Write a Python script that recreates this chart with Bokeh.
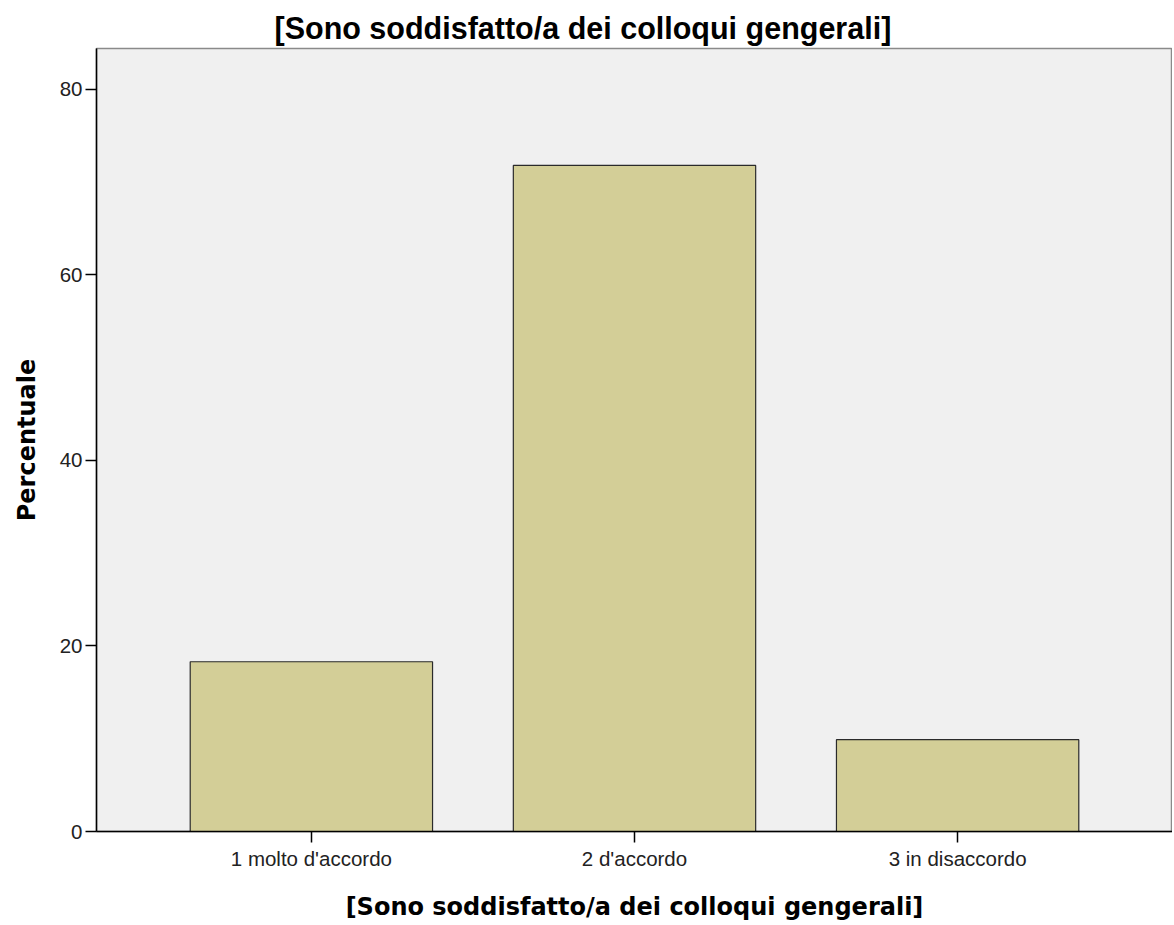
from bokeh.plotting import figure
from bokeh.models import FactorRange, Range1d, FixedTicker, ColumnDataSource
from bokeh.embed import file_html
from bokeh.resources import INLINE

categories = ["1 molto d'accordo", "2 d'accordo", "3 in disaccordo"]
percentages = [18.3, 71.8, 9.9]
y_ticks = [0, 20, 40, 60, 80]
title_text = "[Sono soddisfatto/a dei colloqui gengerali]"

src = ColumnDataSource(dict(cat=categories, val=percentages))

p = figure(x_range=FactorRange(factors=categories, range_padding=0.11),
           y_range=Range1d(0, 84.4),
           width=1172, height=923, output_backend="svg", toolbar_location=None,
           min_border_left=96, min_border_right=0, min_border_top=48, min_border_bottom=92)

p.title.text = title_text
p.title.align = "left"
p.title.offset = 178
p.title.standoff = 8
p.title.text_font = "Liberation Sans"
p.title.text_font_size = "30.5px"
p.title.text_font_style = "bold"
p.title.text_color = "#000000"

p.vbar(x="cat", top="val", width=0.75, source=src,
       fill_color="#D3CE97", line_color="#2a2a2a", line_width=1.2)

p.background_fill_color = "#F0F0F0"
p.border_fill_color = "white"
p.outline_line_color = "#8a8a8a"
p.outline_line_width = 1.5
p.grid.visible = False

p.yaxis.ticker = FixedTicker(ticks=y_ticks)
p.yaxis.axis_label = "Percentuale"
p.xaxis.axis_label = title_text
for ax in (p.xaxis[0], p.yaxis[0]):
    ax.axis_line_color = "black"
    ax.axis_line_width = 1.5
    ax.major_tick_line_color = "black"
    ax.major_tick_line_width = 1.5
    ax.major_tick_out = 11
    ax.major_tick_in = 0
    ax.minor_tick_line_color = None
    ax.major_label_text_font = "Liberation Sans"
    ax.major_label_text_font_size = "20.5px"
    ax.major_label_text_color = "#222222"
    ax.axis_label_text_font = "DejaVu Sans"
    ax.axis_label_text_font_size = "24px"
    ax.axis_label_text_font_style = "bold"
    ax.axis_label_text_color = "#000000"
p.xaxis.major_label_standoff = 4
p.yaxis.major_label_standoff = 3
p.xaxis.axis_label_standoff = 20
p.yaxis.axis_label_standoff = 16

open("out.html", "w").write(file_html(p, INLINE))
